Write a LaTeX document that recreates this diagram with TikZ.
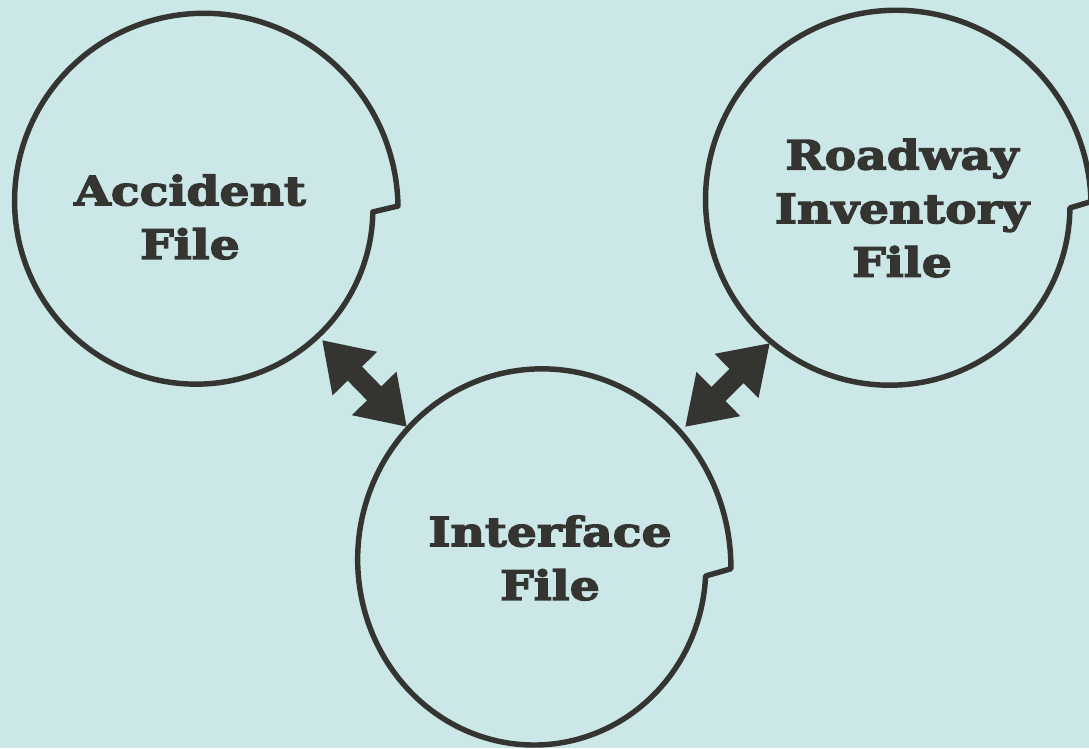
\documentclass[tikz,border=0pt]{standalone}
\usepackage{fontspec}
\newfontfamily\heavyserif{DejaVu Serif Bold}[FakeBold=3.4, FakeStretch=1.17]
\usetikzlibrary{arrows.meta}
\definecolor{paper}{RGB}{203,231,231}
\definecolor{ink}{RGB}{52,52,48}
% file symbol: an open spiral whose two ends are joined by a short step
% #1,#2 centre, #3 inner radius, #4 outer radius, #5 start angle, #6 sweep, #7 vertical stretch
\newcommand{\fileoutline}[7]{%
  \draw[fileline] plot[domain=0:#6, samples=160, smooth]
    ({#1 + (#3 + (#4-#3)*\x/#6)*cos(#5-\x)},
     {#2 + #7*(#3 + (#4-#3)*\x/#6)*sin(#5-\x)}) -- cycle;}
\tikzset{
  fileline/.style={draw=ink, line width=3.1pt, line join=round, line cap=round},
  filelabel/.style={text=ink, align=center, font=\heavyserif\fontsize{23}{30.5}\selectfont},
  linkarrow/.style={draw=ink, line width=0.4cm,
    {Triangle[length=0.94cm, width=1.18cm]}-{Triangle[length=0.94cm, width=1.18cm]}},
}
\begin{document}
\begin{tikzpicture}[x=0.02cm, y=0.02cm]
  \fill[paper] (0,0) rectangle (1089,748);
  \useasboundingbox (0,0) rectangle (1089,748);

  % outlines of the three files
  \fileoutline{200}{543}{173}{198}{-2.3}{358}{1}
  \fileoutline{893}{545}{177}{198}{-1.6}{358}{1}
  \fileoutline{538}{184.5}{168}{193}{-4.1}{357.4}{1.043}

  % labels
  \node[filelabel] (acc) at (190,531) {Accident\\File};
  \node[filelabel] (road) at (902,540) {Roadway\\Inventory\\File};
  \node[filelabel] (inter) at (550,190) {Interface\\File};

  % points where the links meet the outlines
  \coordinate (accEdge)   at (322,408);
  \coordinate (interL)    at (407,321);
  \coordinate (roadEdge)  at (770,405);
  \coordinate (interR)    at (685,321);

  \draw[linkarrow] (accEdge) -- (interL);
  \draw[linkarrow] (roadEdge) -- (interR);
\end{tikzpicture}
\end{document}
